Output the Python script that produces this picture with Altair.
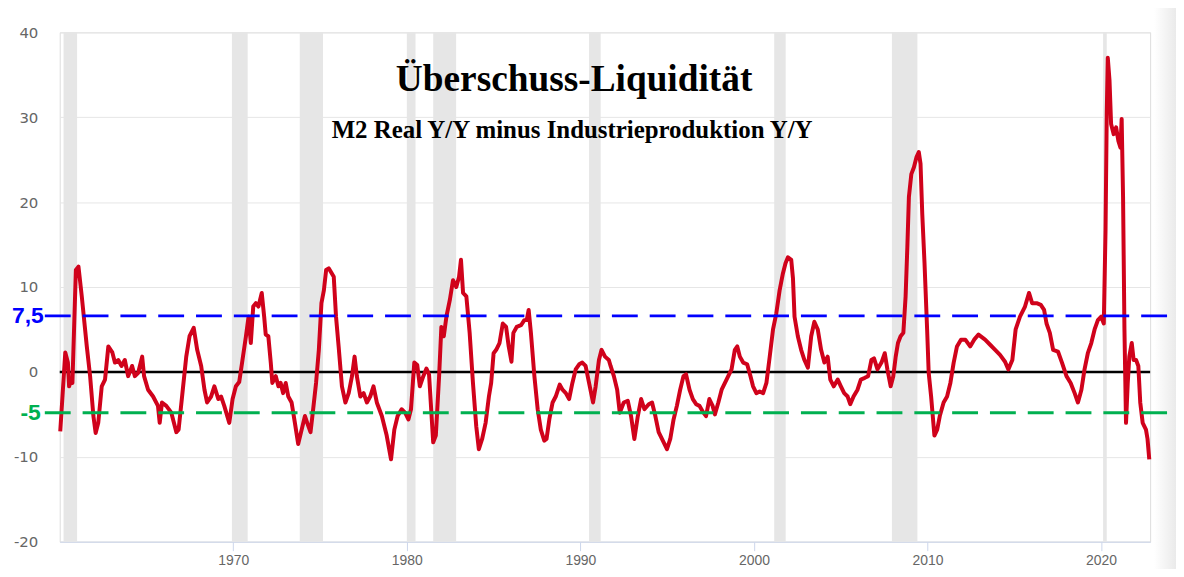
import altair as alt
import pandas as pd

# ---------------- data ----------------
YEARS = [
    1960.03, 1960.32, 1960.47, 1960.54, 1960.66, 1960.73, 1960.93, 1961.08, 1961.27, 1961.56,
    1961.75, 1961.94, 1962.07, 1962.22, 1962.42, 1962.61, 1962.80, 1963.03, 1963.18, 1963.37,
    1963.56, 1963.75, 1963.94, 1964.17, 1964.33, 1964.52, 1964.75, 1964.86, 1965.09, 1965.38,
    1965.66, 1965.76, 1965.89, 1966.14, 1966.43, 1966.72, 1966.85, 1967.09, 1967.29, 1967.48,
    1967.72, 1967.92, 1968.15, 1968.34, 1968.49, 1968.72, 1968.91, 1969.14, 1969.30, 1969.48,
    1969.77, 1969.96, 1970.15, 1970.34, 1970.53, 1970.73, 1970.88, 1971.01, 1971.15, 1971.30,
    1971.45, 1971.64, 1971.78, 1971.87, 1972.02, 1972.16, 1972.25, 1972.45, 1972.60, 1972.73,
    1972.87, 1973.02, 1973.17, 1973.36, 1973.55, 1973.74, 1973.94, 1974.13, 1974.26, 1974.45,
    1974.58, 1974.77, 1974.93, 1975.08, 1975.22, 1975.35, 1975.50, 1975.79, 1975.92, 1976.07,
    1976.26, 1976.46, 1976.65, 1976.84, 1976.99, 1977.12, 1977.32, 1977.51, 1977.70, 1977.89,
    1978.08, 1978.27, 1978.56, 1978.84, 1979.09, 1979.28, 1979.47, 1979.70, 1979.90, 1980.09,
    1980.24, 1980.43, 1980.60, 1980.75, 1980.95, 1981.13, 1981.28, 1981.52, 1981.67, 1981.86,
    1981.99, 1982.13, 1982.28, 1982.48, 1982.66, 1982.85, 1983.01, 1983.12, 1983.24, 1983.43,
    1983.62, 1983.81, 1984.00, 1984.15, 1984.34, 1984.54, 1984.73, 1984.86, 1985.00, 1985.15,
    1985.34, 1985.53, 1985.72, 1985.87, 1986.03, 1986.14, 1986.33, 1986.58, 1986.77, 1986.91,
    1987.02, 1987.15, 1987.35, 1987.54, 1987.72, 1987.92, 1988.05, 1988.21, 1988.40, 1988.58,
    1988.81, 1988.97, 1989.16, 1989.35, 1989.54, 1989.73, 1989.93, 1990.11, 1990.30, 1990.50,
    1990.73, 1990.88, 1991.07, 1991.22, 1991.42, 1991.64, 1991.74, 1991.93, 1992.12, 1992.27,
    1992.50, 1992.73, 1992.92, 1993.11, 1993.31, 1993.50, 1993.69, 1993.94, 1994.13, 1994.32,
    1994.51, 1994.80, 1994.99, 1995.18, 1995.37, 1995.56, 1995.75, 1995.94, 1996.09, 1996.29,
    1996.48, 1996.67, 1996.86, 1997.09, 1997.24, 1997.43, 1997.62, 1997.75, 1997.95, 1998.14,
    1998.33, 1998.52, 1998.71, 1998.90, 1999.04, 1999.19, 1999.38, 1999.61, 1999.80, 1999.95,
    2000.14, 2000.33, 2000.53, 2000.72, 2000.91, 2001.10, 2001.29, 2001.48, 2001.67, 2001.82,
    2001.96, 2002.15, 2002.25, 2002.34, 2002.53, 2002.72, 2002.91, 2003.11, 2003.30, 2003.48,
    2003.68, 2003.87, 2004.06, 2004.25, 2004.40, 2004.60, 2004.83, 2005.01, 2005.20, 2005.40,
    2005.55, 2005.74, 2005.97, 2006.16, 2006.39, 2006.58, 2006.77, 2006.92, 2007.12, 2007.35,
    2007.54, 2007.69, 2007.88, 2008.03, 2008.17, 2008.30, 2008.45, 2008.61, 2008.74, 2008.84,
    2008.93, 2009.07, 2009.22, 2009.37, 2009.50, 2009.60, 2009.70, 2009.83, 2009.98, 2010.07,
    2010.21, 2010.40, 2010.56, 2010.71, 2010.93, 2011.13, 2011.32, 2011.51, 2011.70, 2011.93,
    2012.18, 2012.46, 2012.69, 2012.94, 2013.32, 2013.61, 2013.90, 2014.18, 2014.47, 2014.66,
    2014.89, 2015.08, 2015.33, 2015.62, 2015.85, 2016.03, 2016.29, 2016.53, 2016.72, 2016.86,
    2017.05, 2017.24, 2017.52, 2017.75, 2018.01, 2018.25, 2018.48, 2018.67, 2018.87, 2019.05,
    2019.24, 2019.44, 2019.63, 2019.82, 2020.01, 2020.16, 2020.26, 2020.33, 2020.39, 2020.49,
    2020.58, 2020.73, 2020.87, 2021.00, 2021.12, 2021.19, 2021.27, 2021.35, 2021.44, 2021.54,
    2021.63, 2021.77, 2021.88, 2022.02, 2022.15, 2022.26, 2022.40, 2022.59, 2022.68, 2022.78,
]
VALUES = [
    -7.0, 2.3, 1.1, -1.7, -0.9, -1.3, 12.0, 12.4, 8.9, 3.0,
    -0.5, -5.2, -7.2, -6.0, -1.7, -0.9, 3.0, 2.3, 1.1, 1.4,
    0.7, 1.4, -0.5, 0.7, -0.5, -0.1, 1.8, -0.5, -2.1, -2.9,
    -4.0, -6.0, -3.6, -4.0, -4.8, -7.1, -6.8, -2.1, 1.8, 4.2,
    5.2, 2.6, 0.7, -2.1, -3.6, -2.9, -1.7, -3.2, -2.9, -4.0,
    -6.0, -3.2, -1.7, -1.2, 1.4, 4.2, 6.5, 3.4, 7.7, 8.1,
    7.7, 9.3, 6.5, 4.4, 4.2, 1.1, -1.3, -0.5, -1.7, -1.3,
    -2.5, -1.3, -2.9, -3.6, -6.0, -8.5, -6.8, -5.2, -6.0, -7.1,
    -4.8, -1.3, 2.6, 8.1, 9.6, 12.0, 12.2, 11.2, 6.5, 3.0,
    -1.7, -3.6, -2.5, -0.5, 1.8, -0.5, -2.9, -2.5, -3.6, -2.9,
    -1.7, -3.6, -5.2, -7.5, -10.3, -6.8, -5.2, -4.4, -4.8, -5.6,
    -4.4, 1.1, 0.8, -1.7, -0.5, 0.4, -0.3, -8.3, -7.5, -0.5,
    5.3, 4.2, 6.5, 8.5, 10.8, 10.0, 11.2, 13.2, 9.3, 8.9,
    4.6, -1.3, -6.4, -9.1, -7.9, -6.0, -2.9, -1.3, 2.2, 2.6,
    3.4, 5.7, 5.3, 3.0, 1.2, 4.6, 5.3, 5.5, 6.1, 6.1,
    7.3, 4.6, -0.5, -4.4, -6.8, -8.1, -7.9, -5.6, -3.6, -2.9,
    -1.5, -2.1, -2.5, -3.2, -1.3, 0.3, 0.9, 1.1, 0.7, -1.3,
    -3.6, -1.7, 1.4, 2.6, 1.8, 1.4, 0.7, -0.5, -2.1, -4.8,
    -3.6, -3.4, -5.2, -7.9, -5.2, -3.2, -4.4, -3.8, -3.6, -5.2,
    -7.1, -8.3, -9.1, -7.9, -5.6, -4.0, -2.1, -0.5, -0.3, -2.1,
    -3.2, -3.8, -4.0, -4.8, -5.2, -3.2, -4.0, -5.0, -3.6, -2.1,
    -1.3, -0.5, 0.3, 2.6, 3.0, 1.8, 1.1, 0.9, -0.5, -1.7,
    -2.5, -2.3, -2.5, -1.3, 1.8, 5.0, 6.9, 9.6, 11.6, 12.8,
    13.5, 13.2, 11.0, 6.5, 4.2, 2.6, 1.4, 0.5, 4.2, 5.9,
    5.0, 2.6, 1.1, 1.8, -0.9, -1.7, -0.9, -1.7, -2.5, -2.9,
    -3.8, -2.9, -2.1, -0.9, -0.7, -0.5, 1.4, 1.6, 0.3, 1.1,
    2.2, 0.3, -1.7, -0.5, 1.8, 3.4, 4.2, 4.6, 8.9, 14.7,
    20.6, 23.3, 24.1, 25.3, 25.9, 24.5, 18.6, 12.8, 5.0, -0.1,
    -2.9, -7.5, -6.8, -5.2, -3.6, -2.9, -1.3, 1.1, 3.0, 3.8,
    3.8, 3.0, 3.8, 4.4, 3.8, 3.2, 2.6, 2.0, 1.2, 0.3,
    1.4, 5.0, 6.5, 7.7, 9.3, 8.1, 8.1, 7.9, 7.3, 5.7,
    4.6, 2.6, 2.4, 1.1, -0.5, -1.3, -2.5, -3.6, -2.1, 0.3,
    2.2, 3.4, 5.0, 6.1, 6.5, 5.7, 16.7, 30.4, 37.0, 34.3,
    29.2, 28.0, 28.8, 27.2, 26.4, 29.8, 20.6, 5.0, -6.0, -1.3,
    1.8, 3.4, 1.4, 1.4, 0.7, -3.6, -6.0, -6.8, -7.9, -10.3,
]

REC_START = [1960.22, 1969.92, 1973.83, 1980.00, 1981.52, 1990.50, 2001.17, 2007.95, 2020.12]
REC_END = [1961.00, 1970.83, 1975.17, 1980.50, 1982.84, 1991.17, 2001.83, 2009.42, 2020.33]

Y_TICKS = [-20, -10, 0, 10, 20, 30, 40]
X_TICKS = [1970, 1980, 1990, 2000, 2010, 2020]
ZERO = [0]

TITLE = "Überschuss-Liquidität"
SUBTITLE = "M2 Real Y/Y minus Industrieproduktion Y/Y"

UPPER_LABEL = "7,5"
UPPER_LEVEL = 6.6   # where the hand-drawn blue line sits in the picture
LOWER_LABEL = "-5"
LOWER_LEVEL = -4.8  # where the hand-drawn green line sits in the picture

# ---------------- chart ----------------
W, H = 1096, 512
xscale = alt.Scale(domain=[1960, 2022.83], nice=False, zero=False)
yscale = alt.Scale(domain=[-20, 40], nice=False, zero=False)

XAXIS = alt.Axis(
    values=X_TICKS, format="d", grid=False, domain=True, domainColor="#ccd6eb",
    domainWidth=1, ticks=True, tickColor="#ccd6eb", tickSize=9, labelPadding=3,
    labelFont="Liberation Sans", labelFontSize=14, labelColor="#666666", title=None,
)
YAXIS = alt.Axis(
    values=Y_TICKS, grid=True, gridColor="#e6e6e6", gridWidth=1, domain=False,
    ticks=False, labelPadding=22, labelFont="DejaVu Sans", labelFontSize=15,
    labelColor="#666666", title=None, labelExpr="'' + datum.value",
)

line_df = pd.DataFrame({"year": YEARS, "value": VALUES})
rec_df = pd.DataFrame({"year": REC_START, "end": REC_END})
zero_df = pd.DataFrame({"value": ZERO})
dummy = pd.DataFrame({"k": [0]})

shade = alt.Chart(dummy).mark_rect(
    fill=alt.LinearGradient(
        gradient="linear",
        stops=[alt.GradientStop(color="#ffffff", offset=0),
               alt.GradientStop(color="#e6e6e6", offset=1)],
        x1=0, x2=1, y1=0, y2=0,
    )
).encode(x=alt.value(1100), x2=alt.value(1126), y=alt.value(-26), y2=alt.value(540))

bands = alt.Chart(rec_df).mark_rect(color="#e6e6e6").encode(
    x=alt.X("year:Q", scale=xscale, axis=XAXIS),
    x2="end:Q",
    y=alt.value(0),
    y2=alt.value(H),
)

zero = alt.Chart(zero_df).mark_rule(color="#000000", strokeWidth=2.5).encode(
    y=alt.Y("value:Q", scale=yscale, axis=YAXIS),
)

line = alt.Chart(line_df).mark_line(
    color="#d0021b", strokeWidth=4, strokeJoin="round"
).encode(
    x=alt.X("year:Q", scale=xscale, axis=XAXIS),
    y=alt.Y("value:Q", scale=yscale, axis=YAXIS),
)

levels_df = pd.DataFrame({
    "value": [UPPER_LEVEL, LOWER_LEVEL],
    "label": [UPPER_LABEL, LOWER_LABEL],
})
upper_df = levels_df.iloc[[0]]
lower_df = levels_df.iloc[[1]]


def dashed(df, color):
    return alt.Chart(df).mark_rule(
        color=color, strokeWidth=3, strokeDash=[26, 12]
    ).encode(
        y=alt.Y("value:Q", scale=yscale, axis=YAXIS),
        x=alt.value(-15), x2=alt.value(1124),
    )


def level_text(df, color, xpos):
    return alt.Chart(df).mark_text(
        align="right", baseline="middle", font="Liberation Sans",
        fontWeight="bold", fontSize=23, color=color,
    ).encode(
        y=alt.Y("value:Q", scale=yscale, axis=YAXIS),
        x=alt.value(xpos), text="label:N",
    )


title_df = pd.DataFrame({"t": [TITLE]})
sub_df = pd.DataFrame({"t": [SUBTITLE]})
title = alt.Chart(title_df).mark_text(
    font="Liberation Serif", fontWeight="bold", fontSize=37.5, color="#000000",
    align="center", baseline="alphabetic",
).encode(x=alt.value(517), y=alt.value(59), text="t:N")
subtitle = alt.Chart(sub_df).mark_text(
    font="Liberation Serif", fontWeight="bold", fontSize=25, color="#000000",
    align="center", baseline="alphabetic",
).encode(x=alt.value(515), y=alt.value(106), text="t:N")

chart = alt.layer(
    shade, bands, zero, line,
    dashed(upper_df, "#0000ff"), dashed(lower_df, "#00b050"),
    level_text(upper_df, "#0000ff", -16), level_text(lower_df, "#00b050", -19),
    title, subtitle,
).properties(
    width=W, height=H,
    padding={"left": 52, "top": 23, "right": 26, "bottom": 26},
    autosize=alt.AutoSizeParams(type="none"),
).configure_view(stroke=None).configure(background="#ffffff")

chart.save("out.html", embed_options={"renderer": "svg", "actions": False})
